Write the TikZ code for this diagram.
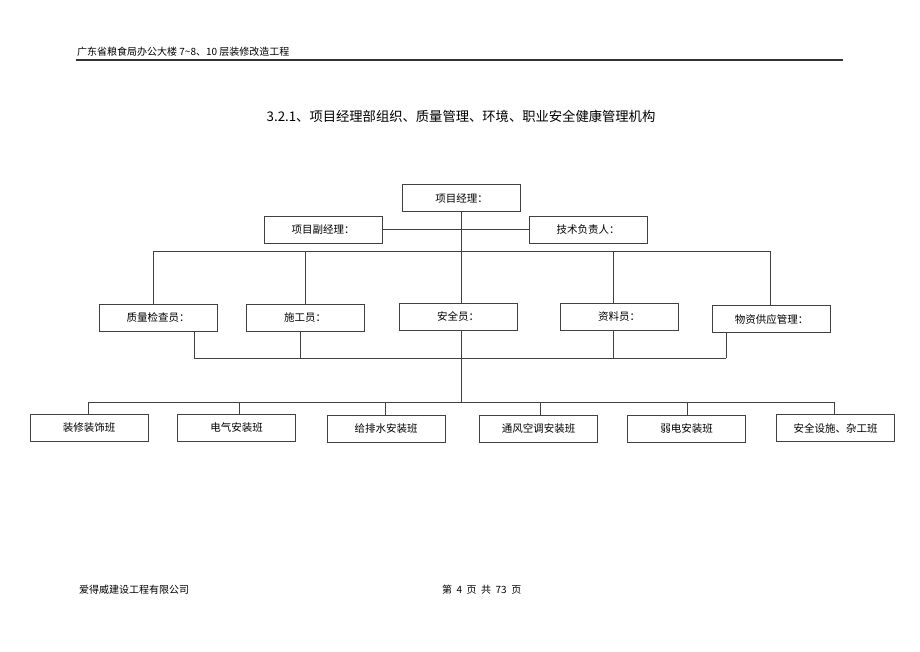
\documentclass[tikz,border=0pt]{standalone}
\usepackage{fontspec}
\newfontfamily\cjk{Noto Sans CJK SC}
\usepackage{tikz}
\usetikzlibrary{calc}

\tikzset{
    post/.style={draw=black!75, line width=0.8pt, fill=white, minimum width=118, minimum height=27, inner sep=0pt, font=\cjk\fontsize{10.5}{12}\selectfont},
    link/.style={draw=black!75, line width=0.8pt},
    pagetext/.style={font=\cjk\fontsize{10}{12}\selectfont, inner sep=0pt}
}

\begin{document}
\begin{tikzpicture}[x=1pt, y=-1pt]
    \useasboundingbox (0,0) rectangle (920,651);

    \node[pagetext, anchor=west] (head) at (77,52) {广东省粮食局办公大楼\ 7\textasciitilde8、10\ 层装修改造工程};
    \draw[line width=1.2pt, black!80] (76,60) -- (843,60);

    \node[inner sep=0pt, font=\cjk\fontsize{13.3}{15}\selectfont] (title) at (461,116) {3.2.1、项目经理部组织、质量管理、环境、职业安全健康管理机构};

    \node[post] (pm) at (461.5,198) {项目经理：};

    \node[post] (dpm) at ($(pm) + (-138.5, 31.5)$) {项目副经理：};

    \node[post] (tech) at ($(pm) + (126.5, 31.5)$) {技术负责人：};

    \node[post] (qc) at ($(pm) + (-303.5, 119.5)$) {质量检查员：};

    \node[post] (sg) at ($(pm) + (-156.5, 119.5)$) {施工员：};

    \node[post] (aq) at ($(pm) + (-3.5, 118.5)$) {安全员：};

    \node[post] (zl) at ($(pm) + (157.5, 118.5)$) {资料员：};

    \node[post] (wz) at ($(pm) + (310, 121)$) {物资供应管理：};

    \node[post] (zx) at ($(pm) + (-372.5, 230)$) {装修装饰班};

    \node[post] (dq) at ($(pm) + (-225, 230)$) {电气安装班};

    \node[post] (gps) at ($(pm) + (-75.5, 231)$) {给排水安装班};

    \node[post] (tf) at ($(pm) + (77, 230.5)$) {通风空调安装班};

    \node[post] (rd) at ($(pm) + (225, 231)$) {弱电安装班};

    \node[post] (aqss) at ($(pm) + (374, 230)$) {安全设施、杂工班};

    \coordinate (busA) at (461.5,251);
    \coordinate (busB) at (461.5,358);
    \coordinate (busC) at (461.5,402);

    \draw[link] (dpm.east) -- (tech.west);
    \draw[link] (pm.south) -- (aq.north -| pm.south);
    \draw[link] (aq.south -| pm.south) -- (busC);

    \draw[link] (153,251) -- (770,251);
    \draw[link] (153,251) -- (qc.north -| 153,0);
    \draw[link] (305,251) -- (sg.north -| 305,0);
    \draw[link] (613,251) -- (zl.north -| 613,0);
    \draw[link] (770,251) -- (wz.north -| 770,0);

    \draw[link] (194,358) -- (726,358);
    \draw[link] (qc.south -| 194,0) -- (194,358);
    \draw[link] (sg.south -| 300,0) -- (300,358);
    \draw[link] (zl.south -| 613,0) -- (613,358);
    \draw[link] (wz.south -| 726,0) -- (726,358);

    \draw[link] (88,402) -- (835,402);
    \draw[link] (88,402) -- (zx.north -| 88,0);
    \draw[link] (239,402) -- (dq.north -| 239,0);
    \draw[link] (385,402) -- (gps.north -| 385,0);
    \draw[link] (540,402) -- (tf.north -| 540,0);
    \draw[link] (687,402) -- (rd.north -| 687,0);
    \draw[link] (834,402) -- (aqss.north -| 834,0);

    \node[pagetext, anchor=west] (firm) at (79,590) {爱得威建设工程有限公司};
    \node[pagetext, anchor=west] (page) at (442,590) {第\ \ 4\ \ 页\ \ 共\ \ 73\ \ 页};
\end{tikzpicture}
\end{document}
